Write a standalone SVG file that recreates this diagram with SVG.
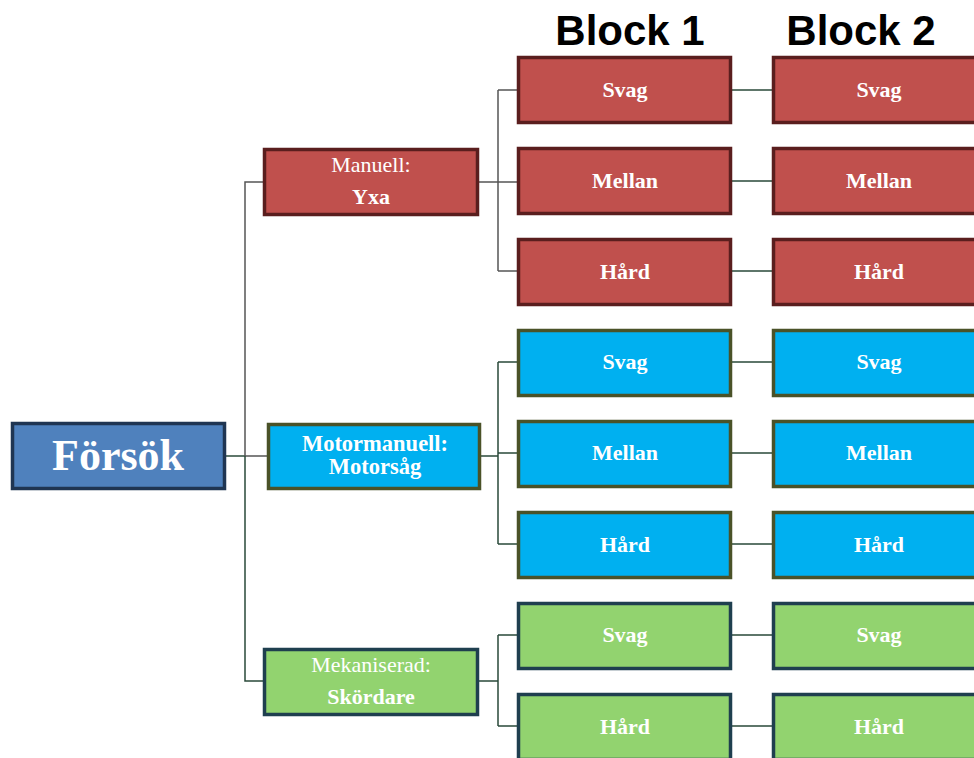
<svg xmlns="http://www.w3.org/2000/svg" width="974" height="758" viewBox="0 0 974 758">
<style>
.t{font-family:"Liberation Serif","DejaVu Serif",serif;fill:#ffffff;text-anchor:middle}
.b{font-weight:bold}
.n{font-size:22px}
.red{fill:#c0504d;stroke:#5a1e1e;stroke-width:3.5}
.blue{fill:#00b0f0;stroke:#4a5228;stroke-width:3.5}
.green{fill:#92d36f;stroke:#1f3f4f;stroke-width:3.5}
.c1{fill:none;stroke:#555;stroke-width:1.5}
.c2{fill:none;stroke:#2a4a3a;stroke-width:1.5}
.h{font-family:"Liberation Sans",Arial,sans-serif;font-weight:bold;font-size:42px;fill:#000;text-anchor:middle}
</style>
<rect width="974" height="758" fill="#fff"/>
<text class="h" x="630" y="45">Block 1</text>
<text class="h" x="861" y="45">Block 2</text>
<g id="connectors">
<path class="c2" d="M226 456H245"/>
<path class="c1" d="M245 456V182H265M245 456H268"/>
<path class="c2" d="M245 456V681H265"/>
<path class="c1" d="M479 182H498M498 90V271M498 90H519M498 182H519M498 271H519"/>
<path class="c2" d="M481 456H498M498 362V544M498 362H519M498 453H519M498 544H519"/>
<path class="c2" d="M479 681H498M498 635V726M498 635H519M498 726H519"/>
<path class="c2" d="M732 90H773M732 181H773M732 271H773M732 362H773M732 453H773M732 544H773M732 635H773M732 726H773"/>
</g>
<g id="forsok"><rect x="12.5" y="423.5" width="212" height="65" fill="#4f81bd" stroke="#1f3552" stroke-width="3.5"/><text class="t b" x="118" y="470" font-size="44">Försök</text></g>
<g id="manuell"><rect class="red" x="264.5" y="149.5" width="213" height="65"/><text class="t" x="371" y="172" font-size="22">Manuell:</text><text class="t b n" x="371" y="204">Yxa</text></g>
<g id="motormanuell"><rect class="blue" x="268.5" y="424.5" width="211" height="64"/><text class="t b" x="375" y="451" font-size="22.5">Motormanuell:</text><text class="t b" x="375" y="474" font-size="22.5">Motorsåg</text></g>
<g id="mekaniserad"><rect class="green" x="264.5" y="649.5" width="213" height="65"/><text class="t" x="371" y="672" font-size="22">Mekaniserad:</text><text class="t b n" x="371" y="704">Skördare</text></g>
<g id="b1-r-svag"><rect class="red" x="518.5" y="57.5" width="212" height="65"/><text class="t b n" x="625" y="97">Svag</text></g>
<g id="b1-r-mellan"><rect class="red" x="518.5" y="148.5" width="212" height="65"/><text class="t b n" x="625" y="188">Mellan</text></g>
<g id="b1-r-hard"><rect class="red" x="518.5" y="239.5" width="212" height="65"/><text class="t b n" x="625" y="279">Hård</text></g>
<g id="b1-b-svag"><rect class="blue" x="518.5" y="330.5" width="212" height="65"/><text class="t b n" x="625" y="369">Svag</text></g>
<g id="b1-b-mellan"><rect class="blue" x="518.5" y="421.5" width="212" height="65"/><text class="t b n" x="625" y="460">Mellan</text></g>
<g id="b1-b-hard"><rect class="blue" x="518.5" y="512.5" width="212" height="65"/><text class="t b n" x="625" y="552">Hård</text></g>
<g id="b1-g-svag"><rect class="green" x="518.5" y="603.5" width="212" height="65"/><text class="t b n" x="625" y="642">Svag</text></g>
<g id="b1-g-hard"><rect class="green" x="518.5" y="694.5" width="212" height="65"/><text class="t b n" x="625" y="734">Hård</text></g>
<g id="b2-r-svag"><rect class="red" x="773.5" y="57.5" width="212" height="65"/><text class="t b n" x="879" y="97">Svag</text></g>
<g id="b2-r-mellan"><rect class="red" x="773.5" y="148.5" width="212" height="65"/><text class="t b n" x="879" y="188">Mellan</text></g>
<g id="b2-r-hard"><rect class="red" x="773.5" y="239.5" width="212" height="65"/><text class="t b n" x="879" y="279">Hård</text></g>
<g id="b2-b-svag"><rect class="blue" x="773.5" y="330.5" width="212" height="65"/><text class="t b n" x="879" y="369">Svag</text></g>
<g id="b2-b-mellan"><rect class="blue" x="773.5" y="421.5" width="212" height="65"/><text class="t b n" x="879" y="460">Mellan</text></g>
<g id="b2-b-hard"><rect class="blue" x="773.5" y="512.5" width="212" height="65"/><text class="t b n" x="879" y="552">Hård</text></g>
<g id="b2-g-svag"><rect class="green" x="773.5" y="603.5" width="212" height="65"/><text class="t b n" x="879" y="642">Svag</text></g>
<g id="b2-g-hard"><rect class="green" x="773.5" y="694.5" width="212" height="65"/><text class="t b n" x="879" y="734">Hård</text></g>
</svg>
